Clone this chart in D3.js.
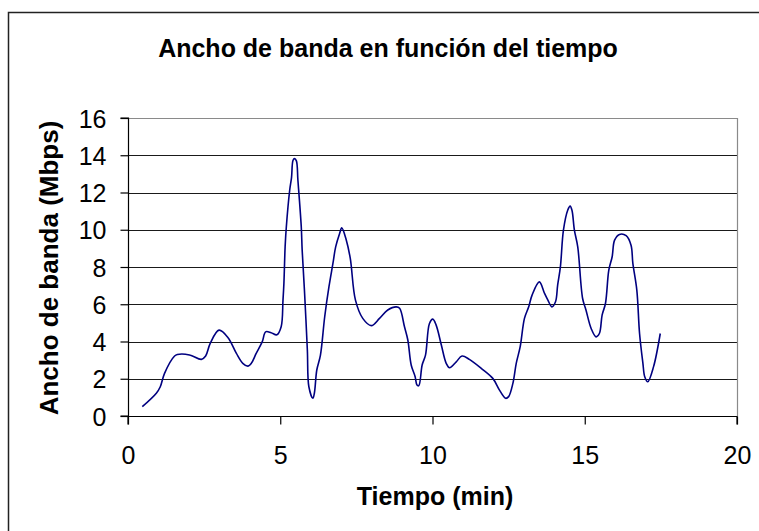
<!DOCTYPE html>
<html>
<head>
<meta charset="utf-8">
<script src="https://cdn.jsdelivr.net/npm/d3@7"></script>
<style>
  html, body { margin: 0; padding: 0; background: #fff; }
  svg { display: block; }
  text { font-family: "Liberation Sans", Arial, sans-serif; fill: #000; }
</style>
</head>
<body>
<svg id="chart" width="759" height="531"></svg>
<script>
// Bandwidth samples over time
const tiempo = [0.47, 0.93, 1.06, 1.2, 1.53, 1.62, 2.02, 2.41, 2.55, 2.70, 2.99, 3.28, 3.56, 3.77, 3.94, 4.05, 4.21, 4.41, 4.52, 4.7,
  4.89, 5.03, 5.09, 5.12, 5.16, 5.2, 5.31, 5.37, 5.42, 5.47, 5.53, 5.58, 5.69, 5.72, 5.8, 5.89, 5.94, 6.07, 6.12, 6.2,
  6.32, 6.46, 6.6, 6.73, 6.82, 6.95, 7.02, 7.17, 7.3, 7.47, 7.71, 7.99, 8.26, 8.53, 8.81, 8.92, 9.08, 9.19, 9.3, 9.43,
  9.49, 9.55, 9.66, 9.77, 9.9, 10.01, 10.12, 10.29, 10.45, 10.56, 10.78, 10.97, 11.21, 11.6, 11.98, 12.2, 12.4, 12.5, 12.64, 12.75,
  12.88, 13.02, 13.16, 13.27, 13.51, 13.68, 13.79, 13.92, 14.04, 14.11, 14.2, 14.3, 14.44, 14.52, 14.58, 14.66, 14.77, 14.93, 15.04, 15.21,
  15.37, 15.48, 15.57, 15.68, 15.79, 15.9, 15.98, 16.14, 16.36, 16.52, 16.58, 16.71, 16.8, 16.91, 16.97, 17.07, 17.26, 17.48];
const anchoBanda = [0.5, 1.22, 1.57, 2.29, 3.22, 3.3, 3.28, 3.04, 3.22, 3.9, 4.61, 4.22, 3.36, 2.83, 2.68, 2.83, 3.36, 3.99, 4.52, 4.47,
  4.36, 4.79, 6.22, 7.12, 9.08, 10.16, 12.12, 12.8, 13.73, 13.82, 13.7, 12.66, 10.16, 8.9, 6.58, 3.54, 1.57, 0.95, 1.22, 2.47,
  3.27, 5.33, 6.94, 8.19, 9.08, 9.8, 10.1, 9.44, 8.46, 6.22, 5.24, 4.85, 5.24, 5.69, 5.86, 5.78, 4.79, 4.08, 2.74, 2.11,
  1.66, 1.63, 2.74, 3.27, 4.97, 5.2, 4.88, 3.81, 2.83, 2.59, 2.91, 3.22, 3.04, 2.56, 2.02, 1.39, 0.95, 1.04, 1.75, 2.83,
  3.72, 5.24, 5.86, 6.49, 7.2, 6.58, 6.22, 5.86, 6.13, 7.03, 8.01, 9.98, 11.05, 11.27, 11.05, 9.98, 9.08, 6.31, 5.69, 4.7,
  4.25, 4.43, 5.42, 6.04, 7.83, 8.55, 9.44, 9.75, 9.68, 9.17, 8.19, 6.76, 4.43, 2.83, 2.11, 1.84, 2.65, 4.43];

const xTicks = [0, 5, 10, 15, 20];
const yTicks = [0, 2, 4, 6, 8, 10, 12, 14, 16];

const titulo = "Ancho de banda en función del tiempo";
const tituloX = "Tiempo (min)";
const tituloY = "Ancho de banda (Mbps)";

const svg = d3.select("#chart");

// Outer chart frame (extends past the right and bottom edges)
svg.append("rect")
  .attr("x", 8.5).attr("y", 12.5)
  .attr("width", 800).attr("height", 600)
  .attr("fill", "#fff").attr("stroke", "#222").attr("stroke-width", 1.5);

const plot = { left: 128, right: 737, top: 118, bottom: 416 };

const x = d3.scaleLinear().domain([0, 20]).range([plot.left, plot.right]);
const y = d3.scaleLinear().domain([0, 16]).range([plot.bottom, plot.top]);

// Horizontal gridlines
svg.append("g")
  .selectAll("line")
  .data(yTicks.filter(d => d > 0 && d < 16))
  .join("line")
  .attr("x1", plot.left).attr("x2", plot.right)
  .attr("y1", d => Math.round(y(d)) + 0.5).attr("y2", d => Math.round(y(d)) + 0.5)
  .attr("stroke", "#1a1a1a").attr("stroke-width", 1);

// Plot area border (top and right in gray)
svg.append("path")
  .attr("d", `M${plot.left},${plot.top + 0.5}H${plot.right + 0.5}V${plot.bottom}`)
  .attr("fill", "none").attr("stroke", "#8a8a8a").attr("stroke-width", 1.2);

// Axes
const xAxis = d3.axisBottom(x).tickValues(xTicks).tickSize(8).tickPadding(22).tickFormat(d3.format("d"));
const yAxis = d3.axisLeft(y).tickValues(yTicks).tickSize(8).tickPadding(14).tickFormat(d3.format("d"));

const gx = svg.append("g").attr("transform", `translate(0,${plot.bottom + 0.5})`).call(xAxis);
const gy = svg.append("g").attr("transform", `translate(${plot.left + 0.5},0)`).call(yAxis);

[gx, gy].forEach(g => {
  g.select(".domain").attr("stroke", "#000").attr("stroke-width", 1.2);
  g.selectAll(".tick line").attr("stroke", "#000").attr("stroke-width", 1.2);
  g.selectAll(".tick text")
    .attr("font-family", "'Liberation Sans', Arial, sans-serif")
    .attr("font-size", 25).attr("fill", "#000");
});
gy.select(".domain").attr("d", `M-8,${y(16)}H0V${y(0)}H-8`);
gx.select(".domain").attr("d", `M${x(0)},8V0H${x(20)}V8`);
gy.selectAll(".tick text").attr("dy", "0.36em");
gx.selectAll(".tick text").attr("dy", "0.71em");

// Bandwidth line
const line = d3.line()
  .x((d, i) => x(tiempo[i]))
  .y(d => y(d))
  .curve(d3.curveCatmullRom.alpha(0.5));

svg.append("path")
  .datum(anchoBanda)
  .attr("d", line)
  .attr("fill", "none")
  .attr("stroke", "#000080")
  .attr("stroke-width", 1.6)
  .attr("stroke-linejoin", "round");

// Titles
svg.append("text")
  .attr("x", 388).attr("y", 57)
  .attr("text-anchor", "middle")
  .attr("font-size", 25).attr("font-weight", "bold")
  .text(titulo);

svg.append("text")
  .attr("x", 435).attr("y", 505)
  .attr("text-anchor", "middle")
  .attr("font-size", 25).attr("font-weight", "bold")
  .text(tituloX);

svg.append("text")
  .attr("transform", "translate(58,268) rotate(-90)")
  .attr("text-anchor", "middle")
  .attr("font-size", 26).attr("font-weight", "bold")
  .text(tituloY);
</script>
</body>
</html>
